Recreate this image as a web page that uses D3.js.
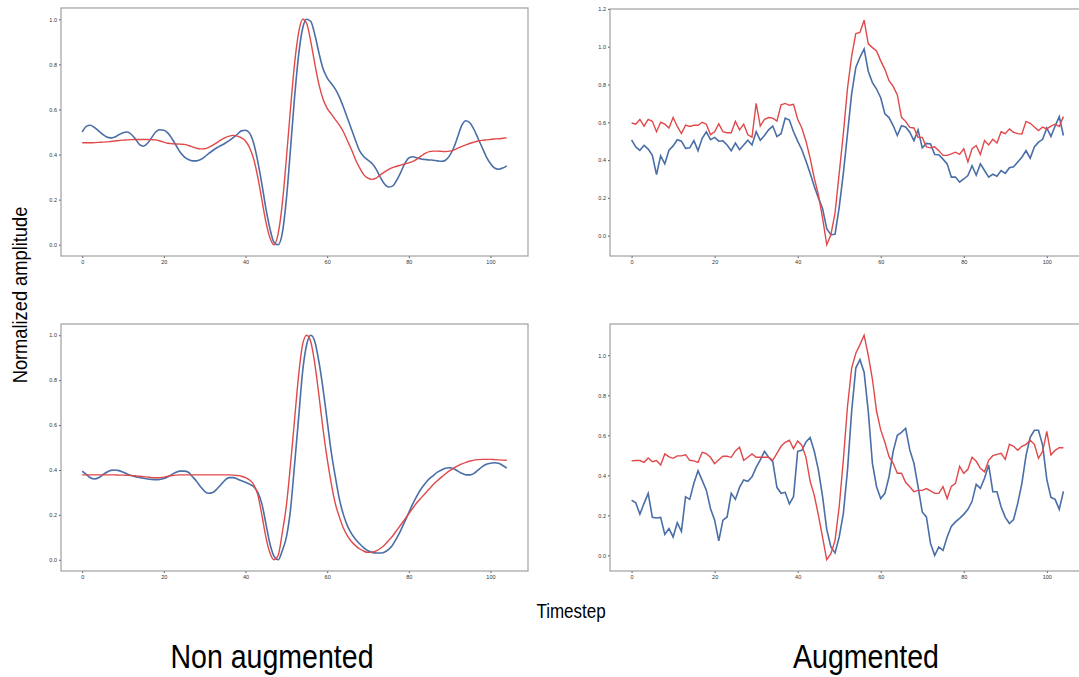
<!DOCTYPE html>
<html>
<head>
<meta charset="utf-8">
<script src="https://cdn.jsdelivr.net/npm/d3@7"></script>
<style>
  body { margin: 0; background: #fff; }
  svg { display: block; font-family: "Liberation Sans", Arial, sans-serif; }
</style>
</head>
<body>
<div id="chart"></div>
<script>
// tick values
var xTicks = [0, 20, 40, 60, 80, 100];
var yTicksLow = [0, 0.2, 0.4, 0.6, 0.8, 1.0];
var yTicksHigh = [0, 0.2, 0.4, 0.6, 0.8, 1.0, 1.2];

// non augmented, top (timestep 0..104)
var nonAugTopBlue = [0.50,0.525,0.53,0.52,0.505,0.49,0.478,0.474,0.478,0.488,
  0.497,0.50,0.49,0.47,0.445,0.437,0.45,0.475,0.50,0.51,
  0.508,0.495,0.47,0.44,0.41,0.39,0.378,0.372,0.372,0.378,
  0.39,0.405,0.418,0.43,0.44,0.45,0.462,0.475,0.49,0.505,
  0.508,0.495,0.45,0.37,0.27,0.16,0.07,0.01,0.0,0.05,
  0.2,0.42,0.65,0.84,0.96,1.0,0.99,0.93,0.85,0.78,
  0.74,0.715,0.69,0.655,0.61,0.56,0.51,0.46,0.415,0.39,
  0.375,0.36,0.335,0.30,0.27,0.256,0.26,0.285,0.32,0.36,
  0.385,0.39,0.385,0.38,0.378,0.376,0.375,0.372,0.37,0.375,
  0.395,0.43,0.48,0.53,0.55,0.54,0.51,0.47,0.43,0.39,
  0.36,0.34,0.335,0.34,0.35];
var nonAugTopRed = [0.452,0.452,0.452,0.453,0.454,0.455,0.456,0.458,0.46,0.462,
  0.464,0.465,0.466,0.467,0.467,0.467,0.467,0.466,0.465,0.46,
  0.455,0.45,0.448,0.447,0.446,0.445,0.44,0.434,0.428,0.425,
  0.426,0.432,0.442,0.453,0.465,0.475,0.482,0.485,0.482,0.474,
  0.46,0.43,0.38,0.30,0.20,0.10,0.03,0.0,0.05,0.18,
  0.38,0.60,0.80,0.94,1.0,0.98,0.90,0.80,0.71,0.645,
  0.605,0.58,0.555,0.53,0.50,0.46,0.42,0.375,0.34,0.31,
  0.295,0.29,0.295,0.31,0.322,0.333,0.342,0.348,0.353,0.358,
  0.363,0.37,0.38,0.393,0.405,0.413,0.415,0.415,0.414,0.413,
  0.415,0.42,0.428,0.436,0.443,0.45,0.455,0.46,0.463,0.465,
  0.467,0.469,0.47,0.472,0.474];

// augmented, top
var augTopBlue = [0.507,0.47,0.452,0.478,0.458,0.425,0.323,0.423,0.38,0.452,
  0.475,0.508,0.5,0.462,0.465,0.503,0.45,0.515,0.55,0.508,
  0.52,0.5,0.502,0.48,0.45,0.49,0.455,0.48,0.505,0.48,
  0.55,0.505,0.53,0.56,0.58,0.525,0.54,0.622,0.612,0.55,
  0.5,0.455,0.395,0.33,0.26,0.2,0.143,0.037,0.005,0.008,
  0.15,0.33,0.54,0.75,0.89,0.944,0.988,0.87,0.81,0.776,
  0.73,0.645,0.625,0.583,0.53,0.582,0.575,0.548,0.503,0.56,
  0.465,0.488,0.485,0.43,0.428,0.405,0.38,0.31,0.31,0.283,
  0.3,0.318,0.37,0.32,0.38,0.345,0.31,0.325,0.315,0.345,
  0.33,0.36,0.365,0.39,0.415,0.45,0.41,0.47,0.495,0.51,
  0.57,0.525,0.58,0.63,0.53];
var augTopRed = [0.596,0.59,0.615,0.58,0.615,0.605,0.55,0.60,0.59,0.57,
  0.625,0.578,0.54,0.585,0.578,0.584,0.584,0.60,0.59,0.535,
  0.55,0.592,0.55,0.545,0.545,0.605,0.56,0.59,0.534,0.522,
  0.70,0.58,0.616,0.625,0.622,0.606,0.692,0.70,0.69,0.695,
  0.616,0.57,0.50,0.41,0.304,0.216,0.093,-0.048,0.005,0.12,
  0.33,0.54,0.78,0.95,1.07,1.075,1.14,1.015,0.995,0.977,
  0.925,0.88,0.82,0.79,0.745,0.626,0.605,0.573,0.57,0.52,
  0.52,0.47,0.465,0.47,0.45,0.425,0.425,0.433,0.442,0.43,
  0.46,0.39,0.46,0.477,0.43,0.503,0.48,0.51,0.49,0.55,
  0.54,0.565,0.547,0.54,0.538,0.605,0.595,0.575,0.556,0.575,
  0.565,0.58,0.59,0.578,0.63];

// non augmented, bottom
var nonAugBottomBlue = [0.395,0.38,0.365,0.36,0.365,0.378,0.39,0.398,0.40,0.397,
  0.39,0.382,0.375,0.37,0.366,0.363,0.36,0.358,0.357,0.358,
  0.362,0.37,0.38,0.39,0.395,0.395,0.39,0.37,0.35,0.325,
  0.305,0.296,0.30,0.315,0.335,0.355,0.366,0.366,0.36,0.352,
  0.345,0.337,0.325,0.30,0.25,0.16,0.07,0.015,0.0,0.04,
  0.1,0.22,0.42,0.63,0.84,0.96,1.0,0.97,0.88,0.76,
  0.62,0.48,0.37,0.27,0.20,0.15,0.115,0.09,0.07,0.053,
  0.04,0.033,0.03,0.03,0.034,0.045,0.065,0.095,0.13,0.17,
  0.21,0.25,0.285,0.315,0.34,0.36,0.375,0.39,0.40,0.408,
  0.41,0.405,0.395,0.385,0.378,0.378,0.385,0.40,0.415,0.425,
  0.43,0.432,0.43,0.42,0.408];
var nonAugBottomRed = [0.378,0.378,0.378,0.378,0.378,0.378,0.378,0.378,0.378,0.377,
  0.377,0.376,0.375,0.374,0.372,0.37,0.368,0.366,0.365,0.366,
  0.368,0.372,0.375,0.377,0.378,0.378,0.378,0.378,0.378,0.378,
  0.378,0.378,0.378,0.378,0.378,0.378,0.378,0.377,0.375,0.372,
  0.366,0.355,0.335,0.29,0.20,0.10,0.03,0.0,0.02,0.12,
  0.24,0.42,0.62,0.82,0.96,1.0,0.97,0.87,0.73,0.58,
  0.45,0.34,0.25,0.19,0.14,0.105,0.08,0.062,0.048,0.038,
  0.033,0.034,0.04,0.05,0.065,0.085,0.105,0.13,0.155,0.18,
  0.205,0.23,0.255,0.275,0.295,0.315,0.335,0.352,0.368,0.383,
  0.397,0.408,0.418,0.427,0.434,0.44,0.444,0.446,0.447,0.447,
  0.447,0.446,0.445,0.444,0.443];

// augmented, bottom
var augBottomBlue = [0.276,0.263,0.206,0.26,0.31,0.19,0.187,0.19,0.105,0.134,
  0.092,0.163,0.12,0.293,0.28,0.36,0.423,0.375,0.326,0.234,
  0.176,0.072,0.176,0.192,0.31,0.28,0.34,0.377,0.37,0.393,
  0.44,0.477,0.52,0.49,0.468,0.34,0.31,0.315,0.257,0.293,
  0.52,0.525,0.567,0.589,0.52,0.426,0.293,0.13,0.042,0.012,
  0.092,0.209,0.426,0.72,0.936,0.978,0.915,0.72,0.46,0.343,
  0.284,0.31,0.393,0.52,0.6,0.615,0.635,0.527,0.46,0.343,
  0.217,0.192,0.059,0.0,0.042,0.025,0.092,0.145,0.167,0.185,
  0.205,0.23,0.27,0.355,0.335,0.385,0.452,0.318,0.318,0.242,
  0.19,0.159,0.179,0.26,0.36,0.5,0.59,0.625,0.625,0.55,
  0.38,0.29,0.28,0.23,0.32];
var augBottomRed = [0.472,0.474,0.474,0.465,0.487,0.468,0.474,0.452,0.507,0.492,
  0.485,0.497,0.497,0.503,0.475,0.472,0.465,0.515,0.508,0.49,
  0.458,0.478,0.495,0.495,0.49,0.522,0.54,0.475,0.49,0.507,
  0.49,0.49,0.49,0.49,0.475,0.51,0.545,0.565,0.575,0.533,
  0.572,0.55,0.49,0.37,0.3,0.2,0.09,-0.022,0.008,0.075,
  0.243,0.477,0.744,0.936,1.01,1.053,1.10,1.0,0.88,0.72,
  0.627,0.565,0.493,0.46,0.41,0.41,0.365,0.343,0.318,0.325,
  0.325,0.334,0.322,0.31,0.31,0.343,0.284,0.345,0.36,0.445,
  0.41,0.43,0.49,0.47,0.435,0.418,0.475,0.498,0.505,0.51,
  0.48,0.555,0.545,0.525,0.545,0.555,0.575,0.555,0.485,0.52,
  0.619,0.502,0.525,0.538,0.538];

var blueColor = "#4a6ea6",
    redColor = "#e0484a";

var svg = d3.select("#chart")
  .append("svg")
  .attr("width", 1079)
  .attr("height", 677);

var panels = [
  {blue: nonAugTopBlue, red: nonAugTopRed, yTicks: yTicksLow, left: 61, top: 8, width: 467, height: 248, smooth: true},
  {blue: augTopBlue, red: augTopRed, yTicks: yTicksHigh, left: 610, top: 9, width: 475, height: 247, smooth: false},
  {blue: nonAugBottomBlue, red: nonAugBottomRed, yTicks: yTicksLow, left: 61, top: 324, width: 467, height: 247, smooth: true},
  {blue: augBottomBlue, red: augBottomRed, yTicks: yTicksLow, left: 610, top: 324, width: 475, height: 247, smooth: false}
];

panels.forEach(function(p) {
  var g = svg.append("g")
    .attr("transform", "translate(" + p.left + "," + p.top + ")");

  var n = p.blue.length - 1;
  var x = d3.scaleLinear()
    .domain([-0.05 * n, n * 1.05])
    .range([0, p.width]);

  var ext = d3.extent(p.blue.concat(p.red));
  var pad = (ext[1] - ext[0]) * 0.05;
  var y = d3.scaleLinear()
    .domain([ext[0] - pad, ext[1] + pad])
    .range([p.height, 0]);

  // X axis
  var xa = g.append("g")
    .attr("transform", "translate(0," + p.height + ")")
    .call(d3.axisBottom(x).tickValues(xTicks).tickSize(2).tickPadding(2).tickFormat(d3.format("d")));
  // Y axis
  var ya = g.append("g")
    .call(d3.axisLeft(y).tickValues(p.yTicks).tickSize(2).tickPadding(2).tickFormat(d3.format(".1f")));

  [xa, ya].forEach(function(a) {
    a.select(".domain").remove();
    a.selectAll("line").attr("stroke", "#555");
    a.selectAll("text").attr("fill", "#333").style("font-size", "5.5px");
  });

  g.append("rect")
    .attr("width", p.width)
    .attr("height", p.height)
    .attr("fill", "none")
    .attr("stroke", "#a0a0a0")
    .attr("stroke-width", 1.2);

  var line = d3.line()
    .x(function(d, i) { return x(i); })
    .y(function(d) { return y(d); })
    .curve(p.smooth ? d3.curveMonotoneX : d3.curveLinear);

  g.append("path")
    .datum(p.blue)
    .attr("fill", "none")
    .attr("stroke", blueColor)
    .attr("stroke-width", 1.6)
    .attr("d", line);

  g.append("path")
    .datum(p.red)
    .attr("fill", "none")
    .attr("stroke", redColor)
    .attr("stroke-width", 1.4)
    .attr("d", line);
});

// labels
svg.append("text")
  .attr("transform", "translate(27,295) rotate(-90) scale(0.87,1)")
  .attr("text-anchor", "middle")
  .style("font-size", "21px")
  .text("Normalized amplitude");

svg.append("text")
  .attr("transform", "translate(571,618) scale(0.85,1)")
  .attr("text-anchor", "middle")
  .style("font-size", "20px")
  .text("Timestep");

svg.append("text")
  .attr("transform", "translate(272,668) scale(0.84,1)")
  .attr("text-anchor", "middle")
  .style("font-size", "34px")
  .text("Non augmented");

svg.append("text")
  .attr("transform", "translate(866,668) scale(0.84,1)")
  .attr("text-anchor", "middle")
  .style("font-size", "34px")
  .text("Augmented");
</script>
</body>
</html>
